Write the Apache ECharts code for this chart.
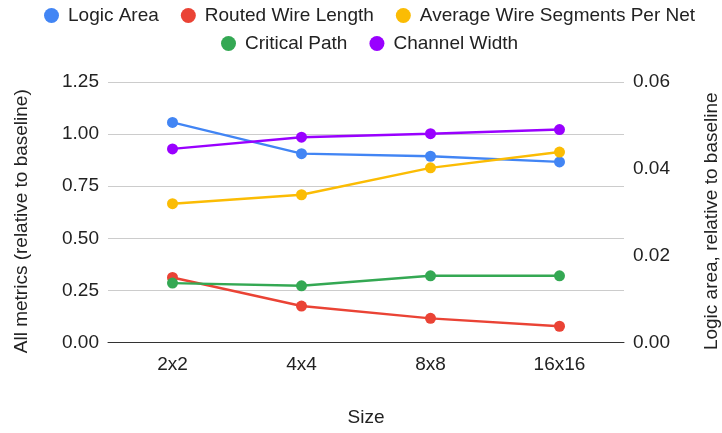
<!DOCTYPE html>
<html>
<head>
<meta charset="utf-8">
<script src="https://cdn.jsdelivr.net/npm/echarts@6/dist/echarts.min.js"></script>
<style>
  html, body { margin: 0; padding: 0; background: #fff; }
  #chart { width: 722px; height: 433px; }
</style>
</head>
<body>
<div id="chart"></div>
<script>
// Array sizes on the x axis
const sizes = ['2x2', '4x4', '8x8', '16x16'];

// Metrics relative to baseline (left axis)
const routedWireLength = [0.312, 0.175, 0.116, 0.078];
const avgWireSegmentsPerNet = [0.666, 0.709, 0.838, 0.914];
const criticalPath = [0.285, 0.272, 0.320, 0.320];
const channelWidth = [0.929, 0.985, 1.002, 1.022];

// Logic area relative to baseline (right axis)
const logicArea = [0.0507, 0.0435, 0.0429, 0.0416];

// Axis ticks
const leftTicks = { min: 0, max: 1.25, interval: 0.25 };
const rightTicks = { min: 0, max: 0.06, interval: 0.02 };

const FONT = '"Liberation Sans", Arial, sans-serif';
const TEXT = '#222';
const FS = 19;

const colors = {
  'Logic Area': '#4285F4',
  'Routed Wire Length': '#EA4335',
  'Average Wire Segments Per Net': '#FBBC04',
  'Critical Path': '#34A853',
  'Channel Width': '#9900FF'
};

function line(name, data, yAxisIndex) {
  return {
    name, type: 'line', data, yAxisIndex,
    symbol: 'circle', symbolSize: 11,
    itemStyle: { color: colors[name] },
    lineStyle: { color: colors[name], width: 2.4 },
    emphasis: { disabled: true }
  };
}

const legendBase = {
  icon: 'circle',
  itemWidth: 15, itemHeight: 15,
  itemGap: 22,
  padding: 0,
  textStyle: { fontFamily: FONT, fontSize: FS, color: TEXT, padding: [0, 0, 0, 4] }
};

const chart = echarts.init(document.getElementById('chart'));
chart.setOption({
  animation: false,
  backgroundColor: '#fff',
  legend: [
    Object.assign({}, legendBase, { left: 44, top: 6, data: ['Logic Area', 'Routed Wire Length', 'Average Wire Segments Per Net'] }),
    Object.assign({}, legendBase, { left: 221, top: 34, data: ['Critical Path', 'Channel Width'] })
  ],
  grid: { left: 108, right: 98, top: 82, bottom: 90.5, outerBoundsMode: 'none', containLabel: false },
  xAxis: {
    type: 'category',
    data: sizes,
    boundaryGap: true,
    name: 'Size',
    nameLocation: 'middle',
    nameGap: 66,
    nameTextStyle: { fontFamily: FONT, fontSize: FS, color: TEXT },
    axisLine: { lineStyle: { color: '#333', width: 1 } },
    axisTick: { show: false },
    axisLabel: { fontFamily: FONT, fontSize: FS, color: TEXT, margin: 13 }
  },
  yAxis: [
    {
      type: 'value',
      min: leftTicks.min, max: leftTicks.max, interval: leftTicks.interval,
      name: 'All metrics (relative to baseline)',
      nameLocation: 'middle',
      nameRotate: 90,
      nameGap: 77,
      nameTextStyle: { fontFamily: FONT, fontSize: FS, color: TEXT, padding: [0, 18, 0, 0] },
      axisLine: { show: false },
      axisTick: { show: false },
      axisLabel: { fontFamily: FONT, fontSize: FS, color: TEXT, margin: 9, formatter: v => v.toFixed(2) },
      splitLine: { lineStyle: { color: '#ccc', width: 1 } }
    },
    {
      type: 'value',
      position: 'right',
      min: rightTicks.min, max: rightTicks.max, interval: rightTicks.interval,
      name: 'Logic area, relative to baseline',
      nameLocation: 'middle',
      nameRotate: 90,
      nameGap: 78,
      nameTextStyle: { fontFamily: FONT, fontSize: FS, color: TEXT, padding: [0, 18, 0, 0] },
      axisLine: { show: false },
      axisTick: { show: false },
      axisLabel: { fontFamily: FONT, fontSize: FS, color: TEXT, margin: 9, formatter: v => v.toFixed(2) },
      splitLine: { show: false }
    }
  ],
  series: [
    line('Logic Area', logicArea, 1),
    line('Routed Wire Length', routedWireLength, 0),
    line('Average Wire Segments Per Net', avgWireSegmentsPerNet, 0),
    line('Critical Path', criticalPath, 0),
    line('Channel Width', channelWidth, 0)
  ]
});
</script>
</body>
</html>
